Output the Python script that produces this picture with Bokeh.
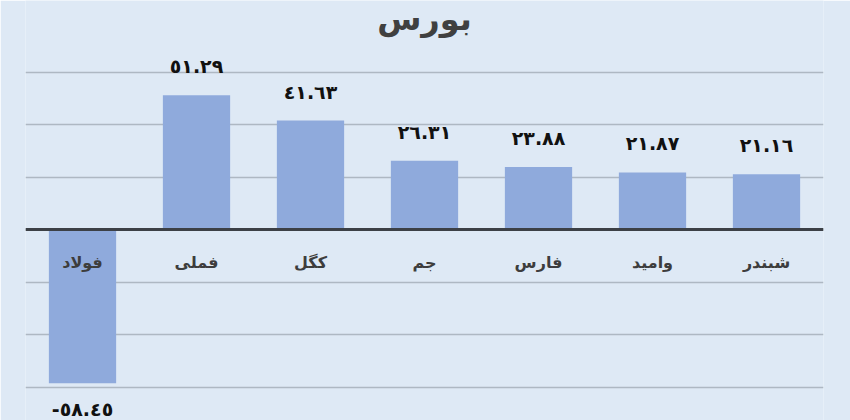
from bokeh.plotting import figure
from bokeh.models import ColumnDataSource, FactorRange, Range1d, FixedTicker, Label
from bokeh.core.properties import value
from bokeh.embed import file_html
from bokeh.resources import INLINE

# Stocks, left to right as drawn
symbols = ["فولاد", "فملی", "کگل", "جم", "فارس", "وامید", "شبندر"]
changes = [-58.45, 51.29, 41.63, 26.31, 23.88, 21.87, 21.16]
grid_ticks = [-60, -40, -20, 0, 20, 40, 60]
title_text = "بورس"

ARABIC_DIGITS = str.maketrans("0123456789", "٠١٢٣٤٥٦٧٨٩")


def fmt(v):
    return f"{v:.2f}".translate(ARABIC_DIGITS)


BG = "#dee9f5"
BAR = "#8faadc"
FONT = "DejaVu Sans"

src = ColumnDataSource(dict(
    sym=symbols,
    val=changes,
    lbl=[fmt(v) for v in changes],
    lbl_off=[-29 if v >= 0 else 26 for v in changes],
    zero=[0] * len(changes),
))

# vertical scale: 2.625 px per unit, zero line 229 px below the top
px_per_unit = 2.625
zero_px = 229.3
H = 420
y_top = zero_px / px_per_unit
y_bot = -(H - zero_px) / px_per_unit

p = figure(
    width=850, height=H,
    x_range=FactorRange(*symbols, range_padding=0),
    y_range=Range1d(y_bot, y_top),
    output_backend="svg", toolbar_location=None,
    min_border_left=25, min_border_right=27,
    min_border_top=0, min_border_bottom=0,
    background_fill_color=BG, border_fill_color=BG,
    outline_line_color=None,
)
p.axis.visible = False
p.xgrid.visible = False
p.ygrid.ticker = FixedTicker(ticks=grid_ticks)
p.ygrid.grid_line_color = "#aeb8c3"
p.ygrid.grid_line_width = 1.5

p.vbar(x="sym", top="val", bottom=0, width=0.59, source=src,
       fill_color=BAR, line_color=None)

# baseline at zero
p.hspan(y=[0], line_color="#3c4046", line_width=3)

# value labels above / below each bar
p.text(x="sym", y="val", text="lbl", y_offset="lbl_off", source=src,
       text_align="center", text_baseline="middle",
       text_font=value(FONT), text_font_style="bold",
       text_font_size="19px", text_color="#111111")

# stock names just under the baseline
p.text(x="sym", y="zero", text="sym", y_offset=33, source=src,
       text_align="center", text_baseline="middle",
       text_font=value(FONT), text_font_style="bold",
       text_font_size="16px", text_color="#3d3d3d")

p.add_layout(Label(x=3.5, y=(zero_px - 18) / px_per_unit, text=title_text,
                   text_align="center", text_baseline="middle",
                   text_font=FONT, text_font_style="bold",
                   text_font_size="32px", text_color="#404040"))

open("out.html", "w").write(file_html(p, INLINE))
